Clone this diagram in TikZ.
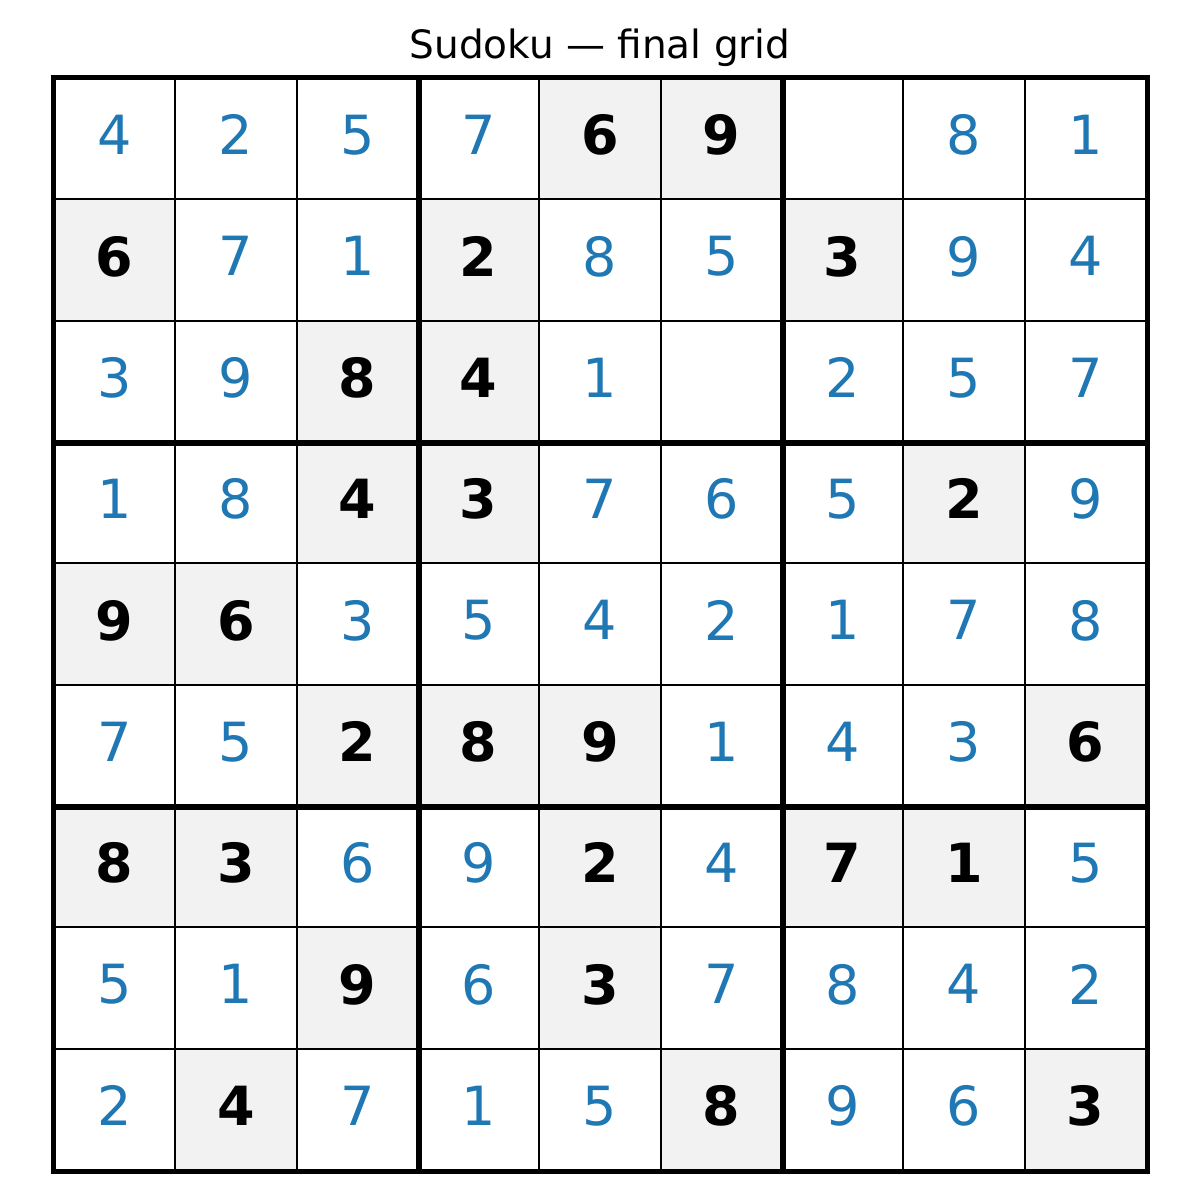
\documentclass[tikz,border=0pt]{standalone}
\usepackage{fontspec}
\setmainfont{DejaVu Sans}
\definecolor{solblue}{HTML}{1F77B4}
\definecolor{givbg}{RGB}{242,242,242}
\tikzset{
  cell/.style={draw=black, line width=2pt, minimum size=121.333pt, inner sep=0pt, text depth=8pt, anchor=center, font=\fontsize{54}{60}\selectfont},
  g/.style={fill=givbg, text=black, font=\fontsize{54}{60}\selectfont\bfseries},
  s/.style={fill=white, text=solblue},
  e/.style={fill=white},
  thick line/.style={line width=6.5pt},
  border line/.style={line width=5pt, line cap=rect}
}
\newcommand\sudrow[2]{%
  \foreach \v/\t [count=\c] in {#2}{%
    \node[cell,\t] (c#1\c) at ({54+121.333*(\c-0.5)}, {-(78+121.333*(#1-0.5))}) {\v};
  }%
}
\begin{document}
\begin{tikzpicture}[x=1pt,y=1pt]
\useasboundingbox (0,0) rectangle (1200,-1200);
\node (title) at (600,-48) {\fontsize{39}{44}\selectfont Sudoku — final grid};
\sudrow{1}{4/s,2/s,5/s,7/s,6/g,9/g,{}/e,8/s,1/s}
\sudrow{2}{6/g,7/s,1/s,2/g,8/s,5/s,3/g,9/s,4/s}
\sudrow{3}{3/s,9/s,8/g,4/g,1/s,{}/e,2/s,5/s,7/s}
\sudrow{4}{1/s,8/s,4/g,3/g,7/s,6/s,5/s,2/g,9/s}
\sudrow{5}{9/g,6/g,3/s,5/s,4/s,2/s,1/s,7/s,8/s}
\sudrow{6}{7/s,5/s,2/g,8/g,9/g,1/s,4/s,3/s,6/g}
\sudrow{7}{8/g,3/g,6/s,9/s,2/g,4/s,7/g,1/g,5/s}
\sudrow{8}{5/s,1/s,9/g,6/s,3/g,7/s,8/s,4/s,2/s}
\sudrow{9}{2/s,4/g,7/s,1/s,5/s,8/g,9/s,6/s,3/g}
% block boundaries
\draw[thick line] (c13.north east) -- (c93.south east);
\draw[thick line] (c16.north east) -- (c96.south east);
\draw[thick line] (c31.south west) -- (c39.south east);
\draw[thick line] (c61.south west) -- (c69.south east);
\draw[border line] (c11.north west) rectangle (c99.south east);
\end{tikzpicture}
\end{document}
